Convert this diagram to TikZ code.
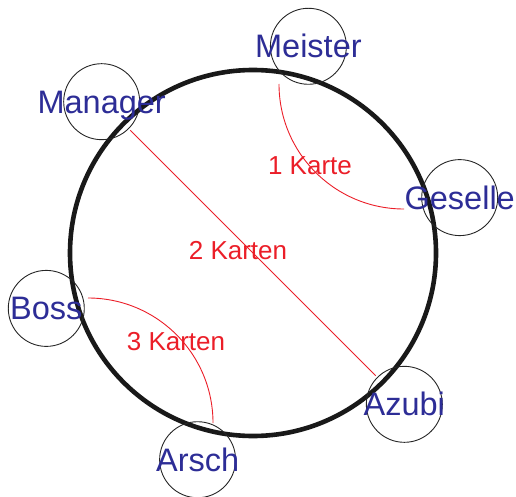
\documentclass[tikz,border=0pt]{standalone}
\usepackage{fontspec}
\setmainfont{Liberation Sans}
\usetikzlibrary{calc}
\definecolor{nameblue}{RGB}{45,45,150}
\definecolor{cardred}{RGB}{235,30,40}
\begin{document}
\begin{tikzpicture}[x=1pt,y=1pt,
  bigring/.style={line width=4.6pt,draw=black!90},
  member/.style={circle,draw=black!85,line width=0.9pt,minimum size=76pt,inner sep=0pt},
  membername/.style={anchor=base,text=nameblue,inner sep=0pt,font=\fontsize{32.5}{38}\selectfont},
  cardline/.style={draw=cardred,line width=0.9pt},
  cardlabel/.style={anchor=base,text=cardred,inner sep=0pt,font=\fontsize{26}{31}\selectfont}]
\useasboundingbox (0,0) rectangle (516,496);
\coordinate (C) at (253,243);
\draw[bigring] (C) circle[radius=183];
\foreach \n/\a in {Geselle/15,Meister/75,Manager/135,Boss/195,Arsch/255,Azubi/315}{
  \node[member] (\n) at ($(C)+(\a:214)$) {};
  \node[membername] (\n-t) at ([yshift=-11.5pt]\n.center) {\n};
}
% connectors
\coordinate (mgS) at (279,412);
\coordinate (baS) at (88,198);
\draw[cardline] (mgS) arc[start angle=180,end angle=270,radius=125];
\draw[cardline] (baS) arc[start angle=90,end angle=0,radius=125];
\draw[cardline,shorten <=2pt,shorten >=2pt] (Manager) -- (Azubi);
\node[cardlabel] (l1) at (310,321) {1 Karte};
\node[cardlabel] (l2) at (238,237) {2 Karten};
\node[cardlabel] (l3) at (176,146) {3 Karten};
\end{tikzpicture}
\end{document}
